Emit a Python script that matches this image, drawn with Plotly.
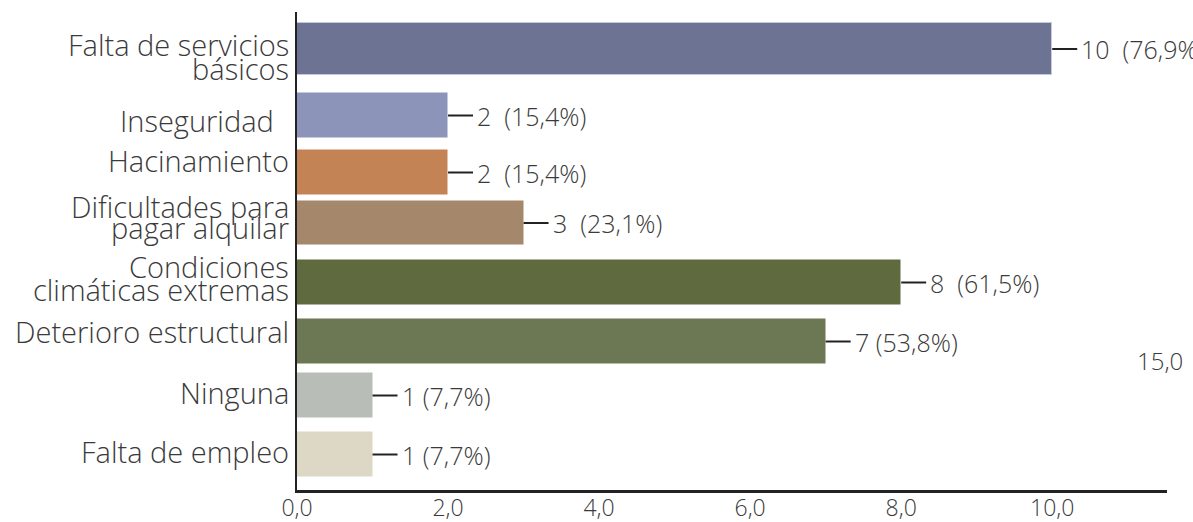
import plotly.graph_objects as go

# ---- data ----
categories = [
    "Falta de servicios<br>básicos",
    "Inseguridad\u00a0\u00a0",
    "Hacinamiento",
    "Dificultades para<br>pagar alquilar",
    "Condiciones<br>climáticas extremas",
    "Deterioro estructural",
    "Ninguna",
    "Falta de empleo",
]
counts = [10, 2, 2, 3, 8, 7, 1, 1]
percents = ["76,9", "15,4", "15,4", "23,1", "61,5", "53,8", "7,7", "7,7"]
x_tick_vals = [0, 2, 4, 6, 8, 10]
x_tick_text = ["0,0", "2,0", "4,0", "6,0", "8,0", "10,0"]
stray_label = "15,0"

# ---- layout / style (not data) ----
colors = ["#6c7393", "#8c94b9", "#c48355", "#a5876b", "#5f6b3f", "#6c7754", "#b8bdb8", "#ddd8c6"]
outline = ["#c5c9dc"] + ["rgba(0,0,0,0)"] * 7
row_pos = [37, 103.5, 160.5, 211, 270.5, 329.5, 383.5, 442.5]   # slot centres (px from plot top)
row_width = [52, 45, 45, 44, 45, 45, 45, 45]
label_line_pos = [[32, 56], [108], [148], [194, 215], [254, 277], [319], [380.5], [439]]
label_gap = [2, 2, 2, 2, 2, 1, 1, 1]

W, H = 1193, 522
ML, MR, MT, MB = 297, 26, 12, 32
PW, PH = W - ML - MR, H - MT - MB
XMAX = 11.52
px_per_unit = PW / XMAX

FONT = "Open Sans"
TXT = "#3a3a3a"

fig = go.Figure()
fig.add_trace(go.Bar(
    x=counts, y=row_pos, width=row_width, orientation="h",
    marker=dict(color=colors, line=dict(color=outline, width=1)),
    hoverinfo="skip",
))

annotations = []
shapes = []
for i, cat in enumerate(categories):
    for ln, ly in zip(cat.split("<br>"), label_line_pos[i]):
        annotations.append(dict(
            xref="paper", yref="y", x=0, y=ly,
            text=ln, showarrow=False, xanchor="right", yanchor="middle", xshift=-6,
            font=dict(family=FONT, size=29, color=TXT, weight=300),
        ))
    lead = 25 / px_per_unit
    shapes.append(dict(type="line", xref="x", yref="y",
                       x0=counts[i], x1=counts[i] + lead, y0=row_pos[i], y1=row_pos[i],
                       line=dict(color="#222222", width=2)))
    annotations.append(dict(
        xref="x", yref="y", x=counts[i] + lead, y=row_pos[i],
        text=f"{counts[i]}" + "\u00a0" * label_gap[i] + f"({percents[i]}%)",
        showarrow=False, xanchor="left", yanchor="middle", xshift=2,
        font=dict(family=FONT, size=25, color=TXT, weight=300),
    ))

annotations.append(dict(
    xref="paper", yref="paper", x=(1160 - ML) / PW, y=1 - (360 - MT) / PH,
    text=stray_label, showarrow=False, xanchor="center", yanchor="middle",
    font=dict(family=FONT, size=24, color=TXT, weight=300),
))

fig.update_layout(
    width=W, height=H, autosize=False,
    margin=dict(l=ML, r=MR, t=MT, b=MB, pad=0, autoexpand=False),
    paper_bgcolor="white", plot_bgcolor="white",
    showlegend=False, bargap=0,
    xaxis=dict(range=[0, XMAX], tickvals=x_tick_vals, ticktext=x_tick_text, automargin=False,
               showgrid=False, zeroline=False, showline=True, linecolor="#222222", linewidth=3,
               ticks="", ticklabelstandoff=-5,
               tickfont=dict(family=FONT, size=23, color=TXT, weight=300),
               fixedrange=True),
    yaxis=dict(range=[PH, 0], showticklabels=False, showgrid=False, zeroline=False, automargin=False,
               showline=True, linecolor="#222222", linewidth=2, ticks="", fixedrange=True),
    annotations=annotations, shapes=shapes,
)

fig.write_html("out.html", config={"displayModeBar": False, "responsive": False})
